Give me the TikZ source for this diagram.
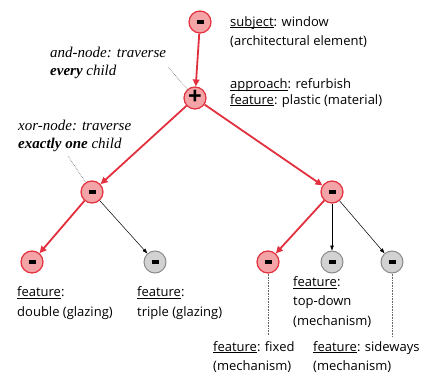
\documentclass[tikz,border=0pt]{standalone}
\usepackage{fontspec}
\setmainfont{Open Sans}
\newfontfamily\notefont{Liberation Serif}
\usetikzlibrary{arrows.meta}

\definecolor{trace}{HTML}{E2303E}
\definecolor{tracefill}{HTML}{F4A4A6}
\definecolor{idlefill}{HTML}{D2D2D2}
\definecolor{idleline}{HTML}{8A8A8A}

% underlined term, line kept just under the baseline
\newcommand\term[1]{\setbox0\hbox{#1}\rlap{\rule[-1.8pt]{\wd0}{0.5pt}}\box0}
\newcommand\minussign{\rule{7pt}{3.2pt}}

\tikzset{
  active/.style={circle, draw=trace, fill=tracefill, line width=1.2pt,
    minimum size=22pt, inner sep=0pt},
  idle/.style={circle, draw=idleline, fill=idlefill, line width=1pt,
    minimum size=22pt, inner sep=0pt},
  taken/.style={trace, line width=1.8pt, -{Triangle[length=7pt,width=6.5pt]}},
  skipped/.style={black, line width=0.5pt, -{Triangle[length=5pt,width=3.5pt]}},
  lbl/.style={anchor=west, align=left, inner sep=0pt,
    font=\fontsize{13}{19.5}\selectfont},
  note/.style={anchor=west, align=left, inner sep=0pt,
    font=\notefont\itshape\fontsize{15}{17.5}\selectfont},
  hint/.style={densely dotted, black!60, line width=0.6pt},
}

\begin{document}
\begin{tikzpicture}[x=1pt, y=-1pt]
  \useasboundingbox (0,0) rectangle (424,375);

  % Nodes of the tree
  \node[active] (root)     at (200,22)  {\minussign};
  \node[active, font=\bfseries\fontsize{24}{24}\selectfont] (both) at (195,98) {\raisebox{1.5pt}{+}};
  \node[active] (glazing)  at (92,192)  {\minussign};
  \node[active] (mech)     at (332,192) {\minussign};
  \node[active] (double)   at (32,262)  {\minussign};
  \node[idle]   (triple)   at (155,262) {\minussign};
  \node[active] (fixed)    at (268,262) {\minussign};
  \node[idle]   (topdown)  at (332,262) {\minussign};
  \node[idle]   (sideways) at (392,262) {\minussign};

  % Traversed and skipped branches
  \draw[taken] (root) -- (both);
  \draw[taken] (both) -- (glazing);
  \draw[taken] (both) -- (mech);
  \draw[taken] (glazing) -- (double);
  \draw[taken] (mech) -- (fixed);
  \draw[skipped] (glazing) -- (triple);
  \draw[skipped] (mech) -- (topdown);
  \draw[skipped] (mech) -- (sideways);

  % Labels
  \node[lbl] (rootlbl) at (230,32) {\term{subject}: window\\(architectural element)};
  \node[lbl, font=\fontsize{13}{15.5}\selectfont] (bothlbl) at (230,93)
    {\term{approach}: refurbish\\\term{feature}: plastic (material)};
  \node[lbl] (doublelbl) at (17,303) {\term{feature}:\\double (glazing)};
  \node[lbl] (triplelbl) at (137,303) {\term{feature}:\\triple (glazing)};
  \node[lbl] (topdownlbl) at (293,302) {\term{feature}:\\top-down\\(mechanism)};
  \node[lbl] (fixedlbl) at (213,357) {\term{feature}: fixed\\(mechanism)};
  \node[lbl] (sidewayslbl) at (313,357) {\term{feature}: sideways\\(mechanism)};

  % Dotted leaders
  \coordinate (fixedend) at (268,336);
  \coordinate (sidewaysend) at (392,336);
  \draw[hint] (fixed) -- (fixedend);
  \draw[hint] (sideways) -- (sidewaysend);

  % Notes on node kinds
  \node[note] (andnote) at (50,63) {and-node: traverse\\\textbf{every} child};
  \node[note] (xornote) at (18,136) {xor-node: traverse\\\textbf{exactly one} child};
  \coordinate (andtip) at (168,67);
  \coordinate (xortip) at (68,156);
  \draw[hint] (andtip) -- (both);
  \draw[hint] (xortip) -- (glazing);
\end{tikzpicture}
\end{document}
